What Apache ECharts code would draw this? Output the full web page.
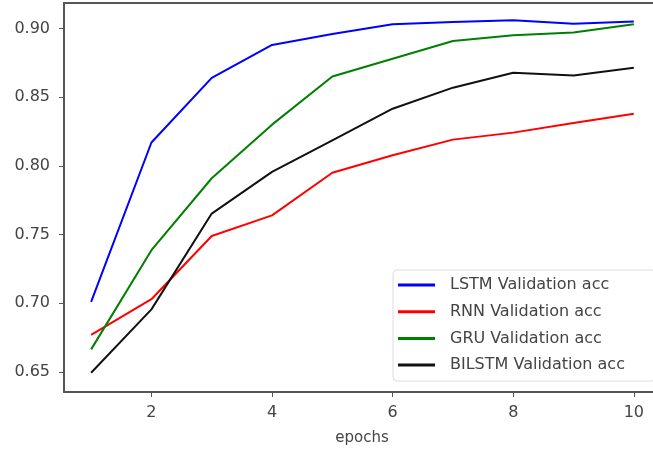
<!DOCTYPE html>
<html>
<head>
<meta charset="utf-8">
<script src="https://cdn.jsdelivr.net/npm/echarts@6/dist/echarts.min.js"></script>
<style>html,body{margin:0;padding:0;background:#fff;overflow:hidden}#c{width:653px;height:455px}</style>
</head>
<body>
<div id="c"></div>
<script>
const epochs = [1,2,3,4,5,6,7,8,9,10];
const lstmAcc   = [0.701,0.817,0.864,0.888,0.896,0.903,0.9046,0.906,0.9034,0.905];
const rnnAcc    = [0.677,0.703,0.749,0.764,0.795,0.8077,0.8191,0.8242,0.8312,0.838];
const gruAcc    = [0.6665,0.7387,0.791,0.830,0.865,0.878,0.8908,0.895,0.897,0.903];
const bilstmAcc = [0.6495,0.6956,0.7653,0.7956,0.8186,0.8416,0.8569,0.8678,0.8658,0.8714];
const seriesNames = ['LSTM Validation acc','RNN Validation acc','GRU Validation acc','BILSTM Validation acc'];
const xTicks = [2,4,6,8,10];
const yTicks = [0.65,0.70,0.75,0.80,0.85,0.90];

const colors = ['#0000ff','#ff0000','#008000','#111111'];
const allData = [lstmAcc, rnnAcc, gruAcc, bilstmAcc];

const chart = echarts.init(document.getElementById('c'), null, {renderer:'canvas'});
const font = 'DejaVu Sans';
chart.setOption({
  animation:false,
  backgroundColor:'#ffffff',
  grid:{left:64, top:3, width:589, height:389, outerBoundsMode:'none', containLabel:false, show:false},
  xAxis:[{
    type:'value', min:0.55, max:10.318,
    name:'epochs', nameLocation:'middle', nameGap:39,
    nameTextStyle:{fontFamily:font, fontSize:15, color:'#444', padding:[0,0,0,7]},
    axisLine:{show:true, lineStyle:{color:'#555', width:2}},
    axisTick:{show:true, length:5, lineStyle:{color:'#555'}, customValues:xTicks},
    axisLabel:{fontFamily:font, fontSize:16, color:'#444', margin:13, customValues:xTicks, formatter:v=>String(v)},
    splitLine:{show:false}
  },{
    type:'value', position:'top', min:0.55, max:10.318,
    axisLine:{show:true, lineStyle:{color:'#555', width:2}},
    axisTick:{show:false}, axisLabel:{show:false}, splitLine:{show:false}
  }],
  yAxis:{
    type:'value', min:0.6355, max:0.9185,
    axisLine:{show:true, lineStyle:{color:'#555', width:2}},
    axisTick:{show:true, length:5, lineStyle:{color:'#555'}, customValues:yTicks},
    axisLabel:{fontFamily:font, fontSize:16, color:'#444', margin:14, customValues:yTicks, formatter:v=>v.toFixed(2)},
    splitLine:{show:false}
  },
  legend:{
    data:seriesNames,
    orient:'vertical', left:393, top:270,
    padding:[5,30,6,5],
    itemWidth:37, itemHeight:3, itemGap:6.7,
    icon:'rect',
    backgroundColor:'rgba(255,255,255,0.85)',
    borderColor:'#ddd', borderWidth:1, borderRadius:4,
    textStyle:{fontFamily:font, fontSize:16, color:'#444', lineHeight:20, padding:[0,0,0,10]}
  },
  series: allData.map((d,i)=>({
    name:seriesNames[i], type:'line', symbol:'none',
    data: epochs.map((e,j)=>[e, d[j]]),
    lineStyle:{color:colors[i], width:2},
    itemStyle:{color:colors[i]}
  }))
});
</script>
</body>
</html>
